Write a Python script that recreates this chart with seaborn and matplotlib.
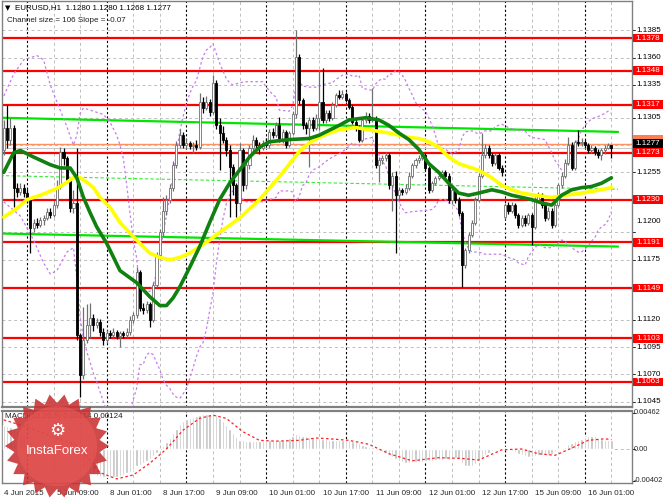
import numpy as np
import pandas as pd
import seaborn as sns
import matplotlib
matplotlib.use("Agg")
import matplotlib.pyplot as plt
import matplotlib.transforms as mtransforms
from matplotlib.patches import Polygon, Circle, Rectangle

sns.set_style("white")
plt.rcParams["font.family"] = ["Liberation Sans", "DejaVu Sans"]

# ---- data (prices are pips above 1.1000, bars are hourly, 0 = 5 Jun 00:00) ----
BASE = 1.1
first_bar = -7
first_open_pips = 275
gap_opens = {144: 214}

close_pips = [296, 285, 296, 241, 237, 241, 236, 230, 204, 209, 207, 211, 213, 219, 216, 225,
              242, 274, 268, 248, 222, 227, 106, 69, 101, 115, 122, 115, 118, 109, 101, 108,
              106, 109, 105, 108, 106, 109, 120, 124, 164, 131, 129, 134, 120, 152, 179, 200,
              220, 230, 241, 262, 280, 289, 280, 282, 279, 280, 278, 319, 314, 319, 310, 337,
              298, 291, 285, 275, 260, 243, 227, 275, 243, 262, 277, 285, 280, 277, 282, 280,
              292, 289, 298, 285, 292, 280, 291, 308, 361, 321, 298, 296, 303, 296, 305, 319,
              303, 309, 305, 317, 326, 324, 327, 321, 315, 301, 296, 285, 303, 307, 303, 305,
              262, 266, 268, 271, 243, 252, 234, 239, 237, 241, 252, 262, 266, 268, 271, 259,
              239, 245, 250, 252, 255, 252, 230, 239, 230, 218, 170, 184, 198, 209, 230, 252,
              271, 277, 271, 264, 271, 259, 255, 225, 220, 225, 216, 207, 213, 209, 216, 205,
              230, 234, 225, 213, 220, 207, 225, 243, 252, 264, 280, 259, 283, 282, 283, 280,
              275, 277, 274, 271, 275, 277, 280, 277]
high_pips = [303, 317, 305, 298, 245, 245, 244, 240, 232, 212, 213, 214, 216, 222, 222, 229,
             248, 278, 277, 270, 250, 239, 277, 108, 132, 134, 135, 125, 122, 121, 112, 111,
             111, 112, 111, 110, 110, 112, 123, 127, 168, 166, 135, 137, 136, 155, 182, 203,
             232, 234, 244, 265, 284, 295, 292, 286, 284, 283, 285, 328, 324, 325, 322, 344,
             340, 305, 297, 287, 280, 263, 245, 282, 277, 265, 280, 289, 287, 283, 285, 286,
             295, 296, 301, 306, 295, 294, 293, 311, 385, 363, 323, 301, 306, 306, 308, 349,
             351, 312, 312, 319, 328, 330, 330, 329, 323, 317, 304, 298, 305, 310, 309, 332,
             307, 269, 271, 274, 273, 255, 256, 242, 241, 244, 255, 264, 268, 271, 274, 273,
             261, 247, 252, 255, 257, 257, 254, 242, 241, 232, 220, 186, 200, 211, 232, 254,
             291, 281, 280, 273, 273, 273, 262, 227, 228, 228, 227, 218, 216, 216, 218, 218,
             232, 237, 236, 227, 223, 222, 227, 245, 255, 267, 287, 283, 285, 294, 286, 285,
             282, 280, 279, 276, 277, 280, 282, 280]
low_pips = [271, 277, 280, 223, 232, 234, 232, 227, 181, 200, 204, 205, 207, 211, 213, 214,
            222, 240, 262, 245, 219, 218, 101, 49, 66, 99, 103, 110, 112, 105, 97, 99,
            103, 104, 102, 95, 103, 104, 106, 117, 122, 128, 125, 126, 113, 118, 150, 176,
            197, 216, 227, 238, 259, 277, 277, 276, 276, 273, 275, 276, 309, 312, 307, 308,
            295, 257, 282, 270, 214, 234, 214, 220, 238, 240, 258, 274, 277, 272, 275, 278,
            277, 286, 287, 283, 282, 277, 278, 289, 305, 318, 295, 290, 260, 293, 294, 294,
            300, 300, 302, 303, 315, 322, 322, 319, 313, 299, 293, 283, 283, 300, 300, 301,
            259, 246, 263, 265, 240, 220, 181, 231, 234, 235, 239, 250, 259, 264, 266, 257,
            236, 237, 243, 248, 250, 249, 227, 226, 227, 215, 150, 167, 181, 196, 207, 228,
            250, 268, 268, 261, 262, 257, 252, 212, 217, 218, 213, 204, 205, 206, 207, 188,
            203, 228, 222, 210, 211, 204, 205, 223, 241, 250, 262, 257, 257, 279, 279, 277,
            273, 273, 271, 268, 266, 272, 276, 268]

green_bars = [-7, -4, -2, 2, 7, 10, 13, 15, 17, 19, 21, 24, 28, 33, 37, 40, 42, 44, 46, 49,
              52, 55, 58, 61, 64, 67, 70, 73, 79, 85, 88, 94, 97, 102, 106, 109, 112, 115, 118, 121,
              124, 127, 130, 133, 136, 140, 143, 146, 149, 152, 155, 158, 161, 164, 167, 170, 173, 176]
green_pips = [255, 273, 275, 269, 262, 259, 259, 250, 232, 218, 205, 190, 165, 154, 141, 133, 133, 140, 150, 168,
              187, 209, 230, 245, 257, 269, 278, 283, 285, 286, 289, 298, 303, 305, 303, 298, 291, 285, 276, 263,
              255, 245, 236, 234, 236, 239, 237, 234, 232, 230, 227, 225, 234, 239, 241, 242, 245, 250]

yellow_bars = [-7, -3, 0, 4, 8, 10, 12, 14, 16, 18, 20, 22, 25, 28, 33, 37, 40, 43, 46, 49,
               52, 55, 58, 64, 70, 76, 82, 85, 88, 91, 94, 99, 103, 109, 115, 118, 121, 124, 127, 130,
               133, 136, 140, 143, 146, 149, 153, 158, 162, 167, 171, 176]
yellow_pips = [214, 222, 230, 234, 239, 242, 246, 250, 250, 246, 241, 232, 223, 209, 193, 181, 177, 175, 177, 181,
               187, 193, 200, 213, 230, 251, 274, 282, 287, 291, 294, 296, 294, 291, 287, 286, 283, 278, 269, 263,
               260, 257, 250, 243, 239, 236, 234, 232, 234, 236, 238, 241]

upper_bars = [-7, -4, -1, 3, 5, 7, 10, 12, 13, 14, 15, 16, 17, 19, 21, 23, 25, 27, 28, 29,
              30, 31, 32, 33, 34, 36, 37, 38, 39, 40, 41, 42, 43, 44, 45, 46, 47, 48, 49, 50,
              51, 52, 53, 54, 55, 56, 57, 58, 59, 60, 61, 62, 64, 66, 71, 72, 73, 74, 75, 76,
              79, 80, 81, 82, 83, 85, 87, 90, 92, 93, 95, 97, 98, 99, 100, 101, 104, 105, 106, 107,
              108, 109, 110, 111, 112, 113, 114, 115, 116, 117, 118, 119, 120, 121, 122, 123, 124, 126, 128, 130,
              131, 132, 134, 136, 138, 140, 141, 143, 145, 147, 150, 151, 152, 154, 156, 157, 158, 159, 160, 161,
              162, 163, 164, 165, 166, 167, 168, 169, 170, 172, 174, 175, 176]
upper_pips = [325, 345, 358, 362, 358, 335, 312, 297, 288, 280, 289, 309, 314, 312, 310, 308, 301, 289, 280, 268,
              244, 218, 193, 177, 146, 146, 146, 151, 163, 180, 198, 216, 233, 252, 273, 292, 306, 318, 327, 334,
              339, 350, 361, 367, 369, 373, 364, 355, 348, 341, 337, 335, 337, 338, 338, 333, 330, 326, 324, 312,
              311, 316, 334, 338, 334, 333, 333, 336, 337, 340, 344, 345, 343, 343, 344, 332, 330, 336, 339, 341,
              340, 345, 345, 348, 347, 344, 339, 332, 326, 319, 316, 313, 311, 305, 298, 289, 278, 276, 272, 275,
              287, 292, 293, 290, 293, 293, 297, 299, 296, 294, 293, 289, 287, 286, 285, 279, 273, 266, 262, 257,
              258, 265, 269, 279, 286, 293, 298, 301, 304, 306, 309, 311, 309]
lower_bars = [-7, -2, 2, 5, 7, 9, 12, 13, 14, 15, 16, 17, 18, 19, 20, 21, 22, 23, 24, 25,
              27, 29, 30, 31, 32, 33, 34, 35, 36, 37, 38, 39, 40, 41, 42, 43, 44, 45, 46, 47,
              48, 49, 50, 51, 52, 53, 54, 55, 56, 57, 58, 59, 60, 61, 62, 63, 64, 65, 66, 71,
              73, 75, 76, 79, 80, 81, 82, 83, 84, 85, 86, 88, 90, 92, 94, 96, 98, 100, 101, 104,
              105, 106, 107, 108, 109, 110, 111, 112, 113, 114, 116, 120, 122, 123, 124, 126, 127, 129, 130, 131,
              132, 133, 134, 136, 138, 143, 145, 147, 148, 150, 151, 152, 153, 154, 156, 158, 160, 161, 162, 163,
              165, 166, 167, 168, 169, 170, 171, 172, 173, 174, 175, 176]
lower_pips = [228, 215, 193, 172, 162, 165, 182, 184, 186, 158, 122, 103, 91, 81, 71, 63, 54, 45, 37, 30,
              20, 16, 23, 34, 47, 57, 79, 79, 88, 90, 88, 81, 74, 65, 60, 57, 52, 49, 48, 52,
              57, 66, 76, 86, 95, 99, 111, 128, 144, 171, 193, 212, 226, 234, 238, 234, 235, 230, 228, 228,
              230, 232, 238, 238, 237, 228, 233, 243, 245, 253, 257, 260, 265, 269, 272, 276, 282, 279, 285, 287,
              277, 271, 265, 261, 251, 244, 235, 228, 222, 218, 219, 220, 221, 224, 230, 230, 227, 224, 219, 201,
              191, 185, 182, 182, 180, 180, 177, 175, 172, 170, 178, 182, 186, 189, 186, 186, 190, 193, 192, 188,
              184, 182, 182, 185, 187, 192, 195, 202, 205, 207, 211, 219]

channel_bars = [-8, 178]
channel_top = [305, 292]
channel_bottom = [199, 187]

levels = [1.1378, 1.1348, 1.1317, 1.1273, 1.1230, 1.1191, 1.1149, 1.1103, 1.1063]
grid_prices = [1.1385, 1.1360, 1.1335, 1.1305, 1.1280, 1.1255, 1.1230, 1.1200,
               1.1175, 1.1150, 1.1120, 1.1095, 1.1070, 1.1045]
tick_prices = [1.1385, 1.1360, 1.1335, 1.1305, 1.1255, 1.1200, 1.1175, 1.1120, 1.1095, 1.1070, 1.1045]
ask_line = 1.1281
last_price = 1.1277

macd_hist = [30, 29, 28, 25, 22, 19, 16, 13, 9, 6, 4, 2, 1, 0, 0, 0,
             1, 3, 4, 4, 2, 1, -8, -18, -23, -27, -30, -32, -34, -35, -36, -36,
             -37, -36, -35, -34, -33, -31, -29, -27, -22, -20, -18, -15, -13, -9, -5, 0,
             4, 9, 14, 20, 26, 32, 35, 38, 40, 41, 42, 43, 44, 45, 45, 46,
             44, 40, 35, 30, 25, 20, 15, 12, 11, 10, 10, 10, 10, 10, 10, 11,
             11, 11, 11, 11, 12, 13, 14, 16, 19, 18, 16, 16, 15, 15, 14, 14,
             13, 13, 12, 12, 12, 12, 12, 12, 11, 10, 9, 7, 5, 4, 3, 2,
             0, -1, -3, -5, -8, -10, -13, -15, -17, -18, -18, -17, -17, -16, -16, -15,
             -15, -15, -14, -14, -14, -13, -14, -13, -12, -13, -18, -21, -22, -21, -19, -15,
             -11, -8, -5, -3, -1, 0, 1, 2, 0, -2, -4, -6, -7, -9, -10, -10,
             -9, -8, -8, -8, -7, -6, -4, -2, 0, 3, 6, 8, 10, 12, 13, 15,
             16, 16, 16, 14, 13, 12, 12, 11]
signal_bars = [-7, 0, 8, 15, 18, 22, 27, 32, 37, 42, 47, 52, 56, 60, 65, 70, 75, 82, 87, 91,
               97, 103, 109, 116, 124, 131, 136, 143, 149, 154, 159, 164, 169, 174, 176]
signal_vals = [37, 28, 15, 5, -10, -30, -38, -33, -18, 0, 24, 39, 43, 39, 22, 11, 10, 11, 14, 13,
               11, 6, -6, -15, -11, -12, -14, -1, 0, -6, -8, 1, 11, 13, 12]

label_bars = [-7, 9, 25, 41, 57, 73, 89, 105, 121, 137, 153, 169]
label_text = ["4 Jun 2015", "5 Jun 09:00", "8 Jun 01:00", "8 Jun 17:00", "9 Jun 09:00",
              "10 Jun 01:00", "10 Jun 17:00", "11 Jun 09:00", "12 Jun 01:00", "12 Jun 17:00",
              "15 Jun 09:00", "16 Jun 01:00"]

# ---- build candle table ----
n = len(close_pips)
bars = np.arange(first_bar, first_bar + n)
opens = [first_open_pips] + close_pips[:-1]
for b, o in gap_opens.items():
    opens[b - first_bar] = o
df = pd.DataFrame({"bar": bars,
                   "open": np.array(opens) / 1e4 + BASE,
                   "high": np.array(high_pips) / 1e4 + BASE,
                   "low": np.array(low_pips) / 1e4 + BASE,
                   "close": np.array(close_pips) / 1e4 + BASE})
df["up"] = df["close"] >= df["open"]

W, H = 664, 498
fig = plt.figure(figsize=(W / 100, H / 100), dpi=100)


def px_rect(x0, y0, x1, y1):
    return [x0 / W, 1 - y1 / H, (x1 - x0) / W, (y1 - y0) / H]


ax = fig.add_axes(px_rect(2, 1, 632, 407))
ax2 = fig.add_axes(px_rect(2, 411, 632, 483))
XL = (-7.53, 182.2)
FS = 5.8

grid_kw = dict(color="#BDBDBD", lw=0.7, ls=(0, (3, 3)), zorder=1)
day_kw = dict(color="#000000", lw=0.8, ls=(0, (2, 2)), zorder=1)
for a in (ax, ax2):
    for b in range(-8, 184, 8):
        if b % 24 == 0:
            a.axvline(b, **day_kw)
        else:
            a.axvline(b, **grid_kw)
    a.set_xlim(*XL)
    for s in a.spines.values():
        s.set_color("#808080")
        s.set_linewidth(1.0)

for p in grid_prices:
    ax.axhline(p, **grid_kw)

# support/resistance levels
for lv in levels:
    ax.axhline(lv, color="#FF0000", lw=1.6, zorder=2)
ax.axhline(ask_line, color="#FF9060", lw=1.0, zorder=2)
ax.axhline(last_price, color="#C8C8C8", lw=0.8, zorder=2)

# regression channel
cb = np.array(channel_bars)
ct = np.array(channel_top) / 1e4 + BASE
cbo = np.array(channel_bottom) / 1e4 + BASE
ax.plot(cb, ct, color="#00E600", lw=1.6, zorder=2)
ax.plot(cb, cbo, color="#00E600", lw=1.6, zorder=2)
ax.plot(cb, (ct + cbo) / 2, color="#33EE33", lw=0.8, ls=(0, (3, 2)), zorder=2)

# bands
for xs, ys in ((upper_bars, upper_pips), (lower_bars, lower_pips)):
    sns.lineplot(x=xs, y=np.array(ys) / 1e4 + BASE, ax=ax, color="#C77DEB",
                 lw=0.9, linestyle=(0, (2, 2)), sort=False, zorder=3)

# candles
wick_col = np.where(df["up"], "#707070", "#000000")
ax.vlines(df["bar"], df["low"], df["high"], colors=wick_col, lw=0.9, zorder=4)
body_lo = np.minimum(df["open"], df["close"])
body_h = np.maximum((df["close"] - df["open"]).abs(), 0.00003)
ax.bar(df["bar"], body_h, bottom=body_lo, width=0.62,
       color=np.where(df["up"], "#FFFFFF", "#000000"),
       edgecolor=wick_col, lw=0.6, zorder=5)

# moving averages
sns.lineplot(x=yellow_bars, y=np.array(yellow_pips) / 1e4 + BASE, ax=ax,
             color="#FFFF00", lw=2.6, sort=False, zorder=6)
sns.lineplot(x=green_bars, y=np.array(green_pips) / 1e4 + BASE, ax=ax,
             color="#108010", lw=2.6, sort=False, zorder=7)

ax.set_ylim(1.10401, 1.14119)
ax.set_xticks([])
ax.set_yticks([])
ax.spines["bottom"].set_linewidth(1.6)

# right-hand price scale
yt = mtransforms.blended_transform_factory(ax.transAxes, ax.transData)
BOX_X, BOX_W, BOX_H = 1.0016, 0.0476, 0.0008
shift = {1.1200: 0.0010}
for p in tick_prices:
    ax.plot([1.0, 1.005], [p, p], transform=yt, color="#000000", lw=0.6, clip_on=False)
    ax.text(1.0065, p + shift.get(p, 0), f"{p:.4f}", transform=yt, ha="left",
            va="center", fontsize=FS, color="#000000", clip_on=False)


def price_box(price, text, fc, z):
    ax.add_patch(Rectangle((BOX_X, price - BOX_H / 2), BOX_W, BOX_H, transform=yt,
                           fc=fc, ec="none", clip_on=False, zorder=z))
    if text:
        ax.text(BOX_X + BOX_W / 2, price, text, transform=yt, ha="center", va="center",
                fontsize=FS, color="white", clip_on=False, zorder=z + 1)


for lv in levels:
    price_box(lv, f"{lv:.4f}", "#FF0000", 10)
price_box(ask_line + 0.0004, "", "#FF7F50", 12)
price_box(last_price + 0.00045, f"{last_price:.4f}", "#000000", 14)

# MACD panel
hist = np.array(macd_hist) / 1e4
ax2.bar(bars, hist, width=0.72, color="#C0C0C0", zorder=3)
sns.lineplot(x=signal_bars, y=np.array(signal_vals) / 1e4, ax=ax2, color="#FF2020",
             lw=0.9, linestyle=(0, (2, 2)), sort=False, zorder=4)
ax2.axhline(0, **grid_kw)
ax2.set_ylim(-0.00432, 0.00483)
ax2.set_yticks([])
ax2.spines["top"].set_linewidth(1.6)
ax2.set_xticks(label_bars)
ax2.set_xticklabels(label_text, ha="left", fontsize=FS)
ax2.tick_params(axis="x", length=3, pad=2, color="#808080")
yt2 = mtransforms.blended_transform_factory(ax2.transAxes, ax2.transData)
for v, t in ((0.00462, "0.00462"), (0.0, "0.00"), (-0.00402, "-0.00402")):
    ax2.plot([1.0, 1.004], [v, v], transform=yt2, color="#000000", lw=0.6, clip_on=False)
    ax2.text(1.003, v, t, transform=yt2, ha="left", va="center", fontsize=5.3, clip_on=False)
ax2.text(0.004, 0.0041, "MACD(12,26,9) 0.00114 0.00124", transform=yt2,
         ha="left", va="center", fontsize=FS, color="#202020")

# overlay: header texts and logo
ov = fig.add_axes([0, 0, 1, 1], zorder=20)
ov.set_xlim(0, W)
ov.set_ylim(H, 0)
ov.axis("off")
ov.patch.set_alpha(0)
ov.text(5, 8, "\u25bc", fontsize=5, va="center", ha="left", color="#000000",
        family="DejaVu Sans")
ov.text(15, 8, "EURUSD,H1  1.1280 1.1280 1.1268 1.1277", fontsize=5.8,
        va="center", ha="left", color="#000000")
ov.text(7, 20, "Channel size = 106 Slope = -0.07", fontsize=5.8,
        va="center", ha="left", color="#202020")

cx, cy, R, r, k = 57, 446, 52, 43, 22
ang = np.linspace(0, 2 * np.pi, 2 * k, endpoint=False)
rad = np.where(np.arange(2 * k) % 2 == 0, R, r)
star = np.column_stack([cx + rad * np.cos(ang), cy + rad * np.sin(ang)])
ov.add_patch(Polygon(star, closed=True, fc="#C93232", ec="none", alpha=0.88))
ov.add_patch(Circle((cx, cy), 40, fc="#EE5A5A", ec="none", alpha=0.55))
ov.text(cx, cy - 15, "\u2699", fontsize=13, color="white", ha="center", va="center",
        family="DejaVu Sans")
ov.text(cx, cy + 5, "InstaForex", fontsize=9.5, color="white", ha="center", va="center")

fig.savefig("out.png", dpi=100)
